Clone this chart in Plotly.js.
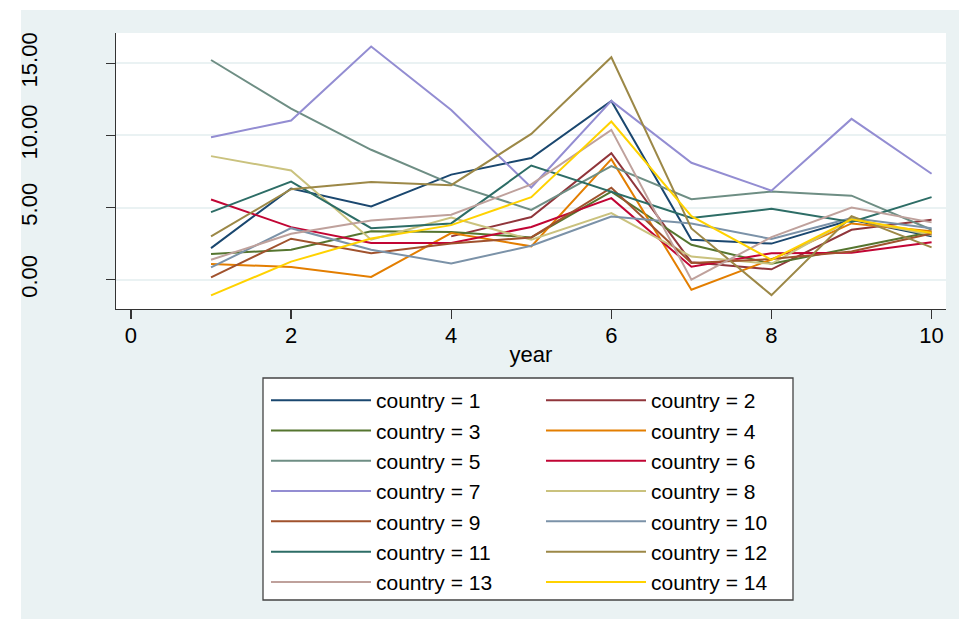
<!DOCTYPE html>
<html><head><meta charset="utf-8">
<script src="https://cdn.plot.ly/plotly-3.0.1.min.js"></script>
<style>html,body{margin:0;padding:0;background:#fff}#chart{width:959px;height:619px}</style>
</head><body><div id="chart"></div>
<script>
const years = [1, 2, 3, 4, 5, 6, 7, 8, 9, 10];
const country1  = [2.19, 6.32, 5.07, 7.28, 8.43, 12.38, 2.77, 2.50, 4.15, 3.00];
const country2  = [null, null, null, 3.00, 4.34, 8.77, 1.20, 0.72, 3.46, 4.15];
const country3  = [1.78, 2.08, 3.35, 3.30, 2.93, 6.10, 2.42, 1.10, 2.20, 3.30];
const country4  = [1.09, 0.88, 0.19, 3.23, 2.31, 8.35, -0.69, 1.40, 3.90, 3.35];
const country5  = [15.22, 11.85, 9.00, 6.64, 4.84, 7.87, 5.58, 6.11, 5.82, 3.46];
const country6  = [5.56, 3.64, 2.55, 2.55, 3.65, 5.65, 0.90, 1.84, 1.87, 2.60];
const country7  = [9.87, 11.03, 16.15, 11.76, 6.39, 12.39, 8.10, 6.17, 11.14, 7.34];
const country8  = [8.56, 7.57, 2.77, 4.30, 2.77, 4.61, 1.60, 1.10, 4.20, 3.10];
const country9  = [0.16, 2.84, 1.84, 2.50, 2.93, 6.37, 1.15, 1.43, 1.96, 3.20];
const country10 = [0.85, 3.57, 2.08, 1.12, 2.35, 4.38, 3.90, 2.82, 4.27, 3.57];
const country11 = [4.68, 6.80, 3.57, 3.90, 7.91, 6.10, 4.27, 4.91, 4.00, 5.72];
const country12 = [3.00, 6.27, 6.76, 6.55, 10.10, 15.41, 3.55, -1.07, 4.40, 2.24];
const country13 = [1.38, 3.18, 4.10, 4.50, 6.60, 10.38, 0.00, 2.95, 5.00, 3.97];
const country14 = [-1.09, 1.25, 2.85, 3.78, 5.72, 10.96, 4.40, 1.38, 4.18, 3.23];
const seriesNames = ["country = 1","country = 2","country = 3","country = 4","country = 5","country = 6","country = 7",
  "country = 8","country = 9","country = 10","country = 11","country = 12","country = 13","country = 14"];
const yTicks = [0, 5, 10, 15];
const yTickText = ["0.00", "5.00", "10.00", "15.00"];
const xTicks = [0, 2, 4, 6, 8, 10];

const allSeries = [country1,country2,country3,country4,country5,country6,country7,
  country8,country9,country10,country11,country12,country13,country14];
const colors = ["#1a476f","#90353b","#55752f","#e37e00","#6e8e84","#c10534","#938dd2",
  "#cac27e","#a0522d","#7b92a8","#2d6d66","#9c8847","#bfa19c","#ffd200"];

const FONT = "Liberation Sans, Arial, Helvetica, sans-serif";
const W = 959, H = 619, ML = 116, MR = 13, MT = 33, MB = 310;
const PW = W - ML - MR, PH = H - MT - MB;
const px = v => (v - ML) / PW;
const py = v => (H - MB - v) / PH;
const cy = v => 1 - v / H;

const traces = allSeries.map((s, i) => ({
  x: years, y: s, type: "scatter", mode: "lines", name: seriesNames[i],
  line: {color: colors[i], width: 2},
  legend: (i % 2 === 0) ? "legend" : "legend2",
  connectgaps: false, hoverinfo: "x+y+name"
}));

const legendCommon = {
  bgcolor: "rgba(0,0,0,0)", borderwidth: 0, orientation: "v",
  font: {family: FONT, size: 21, color: "#000"}, itemwidth: 100,
  xref: "paper", yref: "container",
  xanchor: "left", yanchor: "top", tracegroupgap: 0
};

const layout = {
  width: W, height: H,
  margin: {l: ML, r: MR, t: MT, b: MB, pad: 0},
  paper_bgcolor: "#ffffff", plot_bgcolor: "rgba(0,0,0,0)",
  font: {family: FONT, size: 22, color: "#000"},
  xaxis: {
    range: [-0.187, 10.18], tickvals: xTicks, ticks: "outside", ticklen: 9, tickwidth: 1.3, tickcolor: "#333",
    showgrid: false, zeroline: false, showline: true, linecolor: "#333", linewidth: 1.3,
    ticklabelstandoff: -3,
    tickfont: {family: FONT, size: 22, color: "#000"}, automargin: false,
    title: {text: "year", font: {family: FONT, size: 22, color: "#000"}, standoff: 0}
  },
  yaxis: {
    range: [-2.03, 17.09], tickvals: yTicks, ticktext: yTickText, ticks: "outside", ticklen: 9, tickwidth: 1.3, tickcolor: "#333",
    showgrid: true, gridcolor: "#eaf2f3", gridwidth: 2, zeroline: false, showline: true, linecolor: "#333", linewidth: 1.3,
    tickangle: -90, ticklabelstandoff: 60, tickfont: {family: FONT, size: 22, color: "#000"}, automargin: false
  },
  legend: Object.assign({}, legendCommon, {x: px(266), y: cy(380)}),
  legend2: Object.assign({}, legendCommon, {x: px(541), y: cy(380)}),
  shapes: [
    {type: "rect", xref: "paper", yref: "paper", x0: px(21), x1: px(960), y0: py(620), y1: py(10),
     fillcolor: "#eaf2f3", line: {width: 0}, layer: "below"},
    {type: "rect", xref: "paper", yref: "paper", x0: 0, x1: 1, y0: 0, y1: 1,
     fillcolor: "#ffffff", line: {width: 0}, layer: "below"},
    {type: "rect", xref: "paper", yref: "paper", x0: px(263), x1: px(793), y0: py(600), y1: py(378),
     fillcolor: "#ffffff", line: {color: "#444", width: 1.3}, layer: "above"}
  ],
  showlegend: true
};

Plotly.newPlot("chart", traces, layout, {displayModeBar: false, staticPlot: true});
</script>
</body></html>
